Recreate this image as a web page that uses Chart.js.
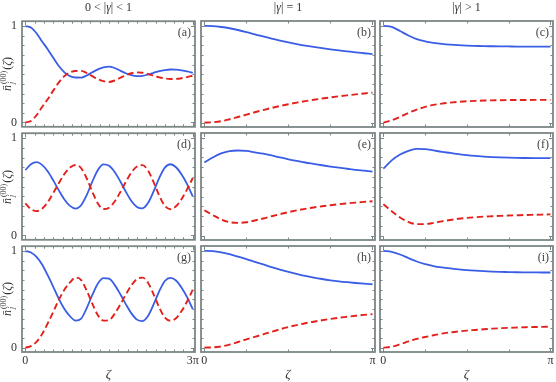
<!DOCTYPE html>
<html>
<head>
<meta charset="utf-8">
<script src="https://cdn.jsdelivr.net/npm/chart.js@4.4.1/dist/chart.umd.min.js"></script>
<style>
html, body { margin: 0; padding: 0; background: #fff; }
#wrap { position: relative; width: 556px; height: 382px; overflow: hidden; font-family: "Liberation Serif", serif; color: #333; }
canvas { position: absolute; }
.coltitle { position: absolute; top: 0; font-size: 12px; line-height: 15px; transform: translateX(-50%); white-space: nowrap; }
.ylab { position: absolute; font-size: 12px; line-height: 14px; white-space: nowrap; transform: translate(-50%, -50%) rotate(-90deg); }
.st { display: inline-block; vertical-align: middle; font-size: 8px; line-height: 8px; margin: 0 1px; }
.st span { display: block; }
</style>
</head>
<body>
<div id="wrap"></div>
<script>
// zeta in units of pi
const zetaWide = [0, 0.1, 0.2, 0.3, 0.4, 0.5, 0.6, 0.7, 0.8, 0.9, 1.0, 1.1, 1.2, 1.3, 1.4, 1.5, 1.6, 1.7, 1.8, 1.9, 2.0,
    2.1, 2.2, 2.3, 2.4, 2.5, 2.6, 2.7, 2.8, 2.9, 3.0];
const zetaNarrow = [0, 0.05, 0.1, 0.15, 0.2, 0.25, 0.3, 0.35, 0.4, 0.45, 0.5, 0.55, 0.6, 0.65, 0.7, 0.75, 0.8, 0.85, 0.9, 0.95, 1.0];

// column 1: 0 < |gamma| < 1
const blueA = [1.0, 0.985, 0.925, 0.84, 0.76, 0.67, 0.585, 0.52, 0.48, 0.466, 0.465, 0.487, 0.52, 0.55, 0.572, 0.58, 0.565, 0.538, 0.51, 0.49, 0.481,
    0.484, 0.498, 0.515, 0.532, 0.543, 0.549, 0.548, 0.541, 0.53, 0.515];
const redA = [0.0, 0.015, 0.075, 0.16, 0.24, 0.33, 0.415, 0.48, 0.52, 0.534, 0.535, 0.513, 0.48, 0.45, 0.428, 0.42, 0.435, 0.462, 0.49, 0.51, 0.519,
    0.516, 0.502, 0.485, 0.468, 0.457, 0.451, 0.452, 0.459, 0.47, 0.485];
const blueD = [0.672, 0.73, 0.752, 0.725, 0.659, 0.565, 0.463, 0.369, 0.303, 0.276, 0.31, 0.415, 0.552, 0.672, 0.729, 0.715, 0.652, 0.557, 0.45, 0.354, 0.292,
    0.278, 0.335, 0.455, 0.592, 0.697, 0.731, 0.70, 0.626, 0.525, 0.40];
const redD = [0.33, 0.27, 0.25, 0.275, 0.34, 0.435, 0.537, 0.631, 0.697, 0.724, 0.69, 0.585, 0.448, 0.328, 0.271, 0.285, 0.348, 0.443, 0.55, 0.646, 0.708,
    0.722, 0.665, 0.545, 0.408, 0.303, 0.269, 0.30, 0.374, 0.475, 0.59];
const blueG = [1.0, 0.985, 0.94, 0.86, 0.75, 0.63, 0.505, 0.40, 0.325, 0.28, 0.30, 0.41, 0.545, 0.665, 0.72, 0.715, 0.65, 0.555, 0.45, 0.355, 0.29,
    0.275, 0.33, 0.45, 0.585, 0.69, 0.722, 0.695, 0.62, 0.52, 0.40];
const redG = [0.0, 0.015, 0.06, 0.14, 0.25, 0.37, 0.495, 0.60, 0.675, 0.725, 0.70, 0.59, 0.455, 0.335, 0.28, 0.285, 0.35, 0.445, 0.55, 0.645, 0.71,
    0.725, 0.67, 0.55, 0.415, 0.31, 0.278, 0.305, 0.38, 0.48, 0.60];

// column 2: |gamma| = 1
const blueB = [1.0, 0.997, 0.988, 0.975, 0.957, 0.936, 0.913, 0.89, 0.868, 0.848, 0.829, 0.812, 0.796, 0.782, 0.769, 0.757, 0.746, 0.736, 0.726, 0.717, 0.708];
const redB = [0.0, 0.004, 0.015, 0.035, 0.058, 0.082, 0.107, 0.13, 0.152, 0.172, 0.19, 0.207, 0.222, 0.236, 0.249, 0.261, 0.272, 0.282, 0.292, 0.301, 0.31];
const blueE = [0.748, 0.80, 0.842, 0.865, 0.871, 0.866, 0.852, 0.838, 0.82, 0.8, 0.781, 0.764, 0.748, 0.734, 0.72, 0.707, 0.695, 0.684, 0.673, 0.664, 0.655];
const redE = [0.259, 0.21, 0.165, 0.138, 0.13, 0.137, 0.155, 0.175, 0.198, 0.22, 0.24, 0.258, 0.274, 0.288, 0.3, 0.311, 0.321, 0.33, 0.338, 0.345, 0.352];
const blueH = [1.0, 0.997, 0.985, 0.965, 0.94, 0.915, 0.887, 0.86, 0.832, 0.806, 0.782, 0.761, 0.741, 0.724, 0.709, 0.696, 0.685, 0.676, 0.668, 0.661, 0.655];
const redH = [0.0, 0.003, 0.013, 0.032, 0.058, 0.086, 0.112, 0.137, 0.164, 0.19, 0.213, 0.233, 0.252, 0.268, 0.283, 0.297, 0.309, 0.319, 0.329, 0.338, 0.346];

// column 3: |gamma| > 1
const blueC = [1.0, 0.99, 0.946, 0.9, 0.862, 0.84, 0.825, 0.814, 0.806, 0.8, 0.796, 0.793, 0.79, 0.789, 0.788, 0.787, 0.786, 0.786, 0.785, 0.785, 0.785];
const redC = [0.0, 0.025, 0.06, 0.1, 0.135, 0.163, 0.183, 0.197, 0.207, 0.215, 0.221, 0.225, 0.228, 0.23, 0.232, 0.233, 0.234, 0.234, 0.235, 0.235, 0.235];
const blueF = [0.685, 0.77, 0.83, 0.868, 0.887, 0.886, 0.872, 0.857, 0.846, 0.834, 0.823, 0.815, 0.809, 0.804, 0.8, 0.797, 0.795, 0.794, 0.793, 0.792, 0.792];
const redF = [0.321, 0.25, 0.185, 0.14, 0.117, 0.118, 0.13, 0.146, 0.16, 0.172, 0.181, 0.188, 0.194, 0.198, 0.202, 0.205, 0.208, 0.211, 0.213, 0.215, 0.217];
const blueI = [1.0, 0.99, 0.962, 0.925, 0.89, 0.862, 0.843, 0.829, 0.818, 0.809, 0.801, 0.795, 0.79, 0.786, 0.783, 0.781, 0.779, 0.778, 0.777, 0.776, 0.776];
const redI = [0.0, 0.01, 0.035, 0.064, 0.09, 0.11, 0.128, 0.145, 0.158, 0.168, 0.176, 0.183, 0.19, 0.196, 0.201, 0.205, 0.208, 0.211, 0.213, 0.215, 0.216];

// ticks
const xTicksWide = [0, 1/6, 1/3, 1/2, 2/3, 5/6, 1, 7/6, 4/3, 3/2, 5/3, 11/6, 2, 13/6, 7/3, 5/2, 8/3, 17/6, 3];
const xTicksNarrow = [0, 0.25, 0.5, 0.75, 1];
const yTicks = [0, 0.1, 0.2, 0.3, 0.4, 0.5, 0.6, 0.7, 0.8, 0.9, 1];
const xLabelValuesWide = [0, 3];
const xLabelTextWide = ['0', '3π'];
const xLabelValuesNarrow = [0, 1];
const xLabelTextNarrow = ['0', 'π'];
const yLabelValues = [0, 1];
const yLabelText = ['0', '1'];

const colTitles = ['0 &lt; |<i>γ</i>| &lt; 1', '|<i>γ</i>| = 1', '|<i>γ</i>| &gt; 1'];
const panelTags = [['(a)', '(b)', '(c)'], ['(d)', '(e)', '(f)'], ['(g)', '(h)', '(i)']];
const panelSeries = [
    [[blueA, redA], [blueB, redB], [blueC, redC]],
    [[blueD, redD], [blueE, redE], [blueF, redF]],
    [[blueG, redG], [blueH, redH], [blueI, redI]]
];

// layout (px)
const W = 556, H = 382, M = 12;
const colLeft = [22, 201, 380];
const colWidth = [173, 174, 173];
const rowTop = [21, 133, 246];
const rowHeight = [106, 107, 106];

const FRAME = '#7c8787';
const BLUE = '#3a5de6';
const RED = '#e3211c';
const FONT = '"Liberation Serif", serif';
const TEXT = '#333';

const wrap = document.getElementById('wrap');

const framePlugin = {
    id: 'framePlugin',
    afterDraw(chart, args, opts) {
        const { ctx, chartArea: a, scales } = chart;
        ctx.save();
        ctx.strokeStyle = FRAME;
        ctx.lineWidth = 1;
        ctx.beginPath();
        opts.xTicks.forEach(v => {
            const p = Math.round(scales.x.getPixelForValue(v)) + 0.5;
            const len = opts.xMajor.includes(v) ? 4 : 2.5;
            ctx.moveTo(p, a.bottom); ctx.lineTo(p, a.bottom - len);
            ctx.moveTo(p, a.top); ctx.lineTo(p, a.top + len);
        });
        yTicks.forEach(v => {
            const p = Math.round(scales.y.getPixelForValue(v)) + 0.5;
            const len = yLabelValues.includes(v) ? 4 : 2.5;
            ctx.moveTo(a.left, p); ctx.lineTo(a.left + len, p);
            ctx.moveTo(a.right, p); ctx.lineTo(a.right - len, p);
        });
        ctx.stroke();
        ctx.lineWidth = 1.8;
        ctx.strokeRect(a.left, a.top, a.right - a.left, a.bottom - a.top);
        ctx.fillStyle = '#444';
        ctx.font = '12px ' + FONT;
        ctx.textAlign = 'right';
        ctx.textBaseline = 'middle';
        ctx.fillText(opts.tag, a.right - 4, a.top + 12);
        ctx.restore();
    }
};

function makePanel(r, c) {
    const wide = c === 0;
    const xs = wide ? zetaWide : zetaNarrow;
    const [blue, red] = panelSeries[r][c];
    const left = c === 0 ? 0 : colLeft[c] - M;
    const top = rowTop[r] - M;
    const width = colLeft[c] + colWidth[c] + M - left;
    const height = r === 2 ? H - top : rowHeight[r] + 2 * M;

    const canvas = document.createElement('canvas');
    canvas.width = width;
    canvas.height = height;
    canvas.style.left = left + 'px';
    canvas.style.top = top + 'px';
    wrap.appendChild(canvas);

    const labVals = wide ? xLabelValuesWide : xLabelValuesNarrow;
    const labText = wide ? xLabelTextWide : xLabelTextNarrow;
    const showX = r === 2;
    const showY = c === 0;

    new Chart(canvas.getContext('2d'), {
        type: 'line',
        data: {
            datasets: [
                {
                    data: xs.map((x, i) => ({ x: x, y: red[i] })),
                    borderColor: RED,
                    borderWidth: 1.9,
                    borderDash: [6.5, 3.5],
                    order: 0
                },
                {
                    data: xs.map((x, i) => ({ x: x, y: blue[i] })),
                    borderColor: BLUE,
                    borderWidth: 1.8,
                    order: 1
                }
            ]
        },
        options: {
            responsive: false,
            animation: false,
            events: [],
            layout: { padding: { left: showY ? 0 : M, top: M, right: M, bottom: showX ? 0 : M } },
            elements: {
                point: { radius: 0 },
                line: { cubicInterpolationMode: 'monotone', fill: false }
            },
            plugins: {
                legend: { display: false },
                tooltip: { enabled: false },
                framePlugin: { tag: panelTags[r][c], xTicks: wide ? xTicksWide : xTicksNarrow, xMajor: labVals }
            },
            scales: {
                x: {
                    type: 'linear',
                    min: wide ? -0.06 : -0.02,
                    max: wide ? 3.04 : 1.015,
                    display: showX,
                    grid: { display: false, drawTicks: false },
                    border: { display: false },
                    afterBuildTicks: s => { s.ticks = labVals.map(v => ({ value: v })); },
                    afterFit: s => { if (showX) s.height = H - (rowTop[2] + rowHeight[2]); },
                    ticks: {
                        color: TEXT,
                        font: { family: FONT, size: 12 },
                        padding: 2,
                        maxRotation: 0,
                        autoSkip: false,
                        callback: v => labText[labVals.indexOf(v)]
                    },
                    title: {
                        display: true,
                        text: 'ζ',
                        color: TEXT,
                        font: { family: FONT, size: 13, style: 'italic' },
                        padding: 0
                    }
                },
                y: {
                    type: 'linear',
                    min: -0.045,
                    max: 1.05,
                    display: showY,
                    grid: { display: false, drawTicks: false },
                    border: { display: false },
                    afterBuildTicks: s => { s.ticks = yLabelValues.map(v => ({ value: v })); },
                    afterFit: s => { if (showY) s.width = colLeft[0]; },
                    ticks: {
                        color: TEXT,
                        font: { family: FONT, size: 12 },
                        padding: 5,
                        autoSkip: false,
                        callback: v => yLabelText[yLabelValues.indexOf(v)]
                    }
                }
            }
        },
        plugins: [framePlugin]
    });
}

for (let r = 0; r < 3; r++) {
    for (let c = 0; c < 3; c++) makePanel(r, c);
}

// column titles
colTitles.forEach((t, c) => {
    const d = document.createElement('div');
    d.className = 'coltitle';
    d.style.left = (colLeft[c] + colWidth[c] / 2) + 'px';
    d.innerHTML = t;
    wrap.appendChild(d);
});

// y axis labels
rowTop.forEach((t, r) => {
    const d = document.createElement('div');
    d.className = 'ylab';
    d.style.left = '8px';
    d.style.top = (t + rowHeight[r] / 2) + 'px';
    d.innerHTML = '<i>n&#772;</i><span class="st"><span>(00)</span><span><i>j</i></span></span>(<i>ζ</i>)';
    wrap.appendChild(d);
});
</script>
</body>
</html>
